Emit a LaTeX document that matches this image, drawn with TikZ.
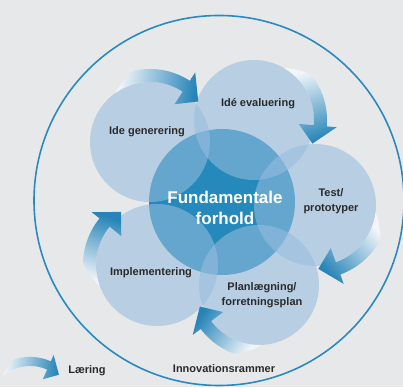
\documentclass[tikz,border=0pt]{standalone}
\usepackage{fontspec}
\setmainfont{Liberation Sans}
\definecolor{bg}{HTML}{E7E8EA}
\definecolor{ring}{HTML}{2A8AC0}
\definecolor{core}{HTML}{2689BB}
\definecolor{stagefill}{HTML}{95BDDE}
\definecolor{ink}{HTML}{2A2A2A}
\definecolor{arrowlight}{HTML}{F2F6FA}
\definecolor{arrowdark}{HTML}{2784B8}
\tikzset{
  stage/.style={circle, fill=stagefill, fill opacity=0.57, inner sep=0pt, minimum size=120pt},
  coreDisc/.style={circle, fill=core, inner sep=0pt, minimum size=146pt},
  frameRing/.style={circle, draw=ring, line width=1.6pt, inner sep=0pt, minimum size=370pt},
  learnArrow/.style={top color=arrowlight, bottom color=arrowdark},
  stageLbl/.style={text=ink, font=\bfseries\fontsize{11}{15}\selectfont, align=center},
  coreLbl/.style={text=white, font=\bfseries\fontsize{17}{21}\selectfont, align=center},
}
% curved learning arrow round a circle: centre x, centre y, radius,
% tail angle, head angle, shading angle
\newcommand{\LearnArrow}[6]{%
  \shade[learnArrow, shading angle=#6]
    plot[smooth, variable=\t, samples=30, domain=#4:#5]
      ({#1+(#3+13*min(1,((#4)-(\t))/22))*cos(\t)}, {#2+(#3+13*min(1,((#4)-(\t))/22))*sin(\t)})
    -- ({#1+(#3+23)*cos(#5)}, {#2+(#3+23)*sin(#5)})
    -- ({#1+(#3+3)*cos((#5)-17)}, {#2+(#3+3)*sin((#5)-17)})
    -- ({#1+(#3-15)*cos(#5)}, {#2+(#3-15)*sin(#5)})
    -- ({#1+#3*cos(#5)}, {#2+#3*sin(#5)})
    arc[start angle=#5, end angle=#4, radius=#3]
    -- cycle;
}

\begin{document}
\begin{tikzpicture}[x=1pt, y=1pt]
  \fill[bg] (0,0) rectangle (403,387);
  \useasboundingbox (0,0) rectangle (403,387);

  \node[frameRing] (frame) at (219,186.5) {};
  \node[coreDisc] (core) at (222,185) {};

  % the five stages
  \node[stage] (gen)  at (150,245) {};
  \node[stage] (eval) at (254,267) {};
  \node[stage, minimum size=122pt] (test) at (315,182) {};
  \node[stage] (plan) at (259,102) {};
  \node[stage, minimum size=122pt] (impl) at (157,122) {};

  % learning arrows
  \LearnArrow{150}{245}{60}{125}{57}{82}
  \LearnArrow{254}{267}{60}{60}{-5}{19}
  \LearnArrow{315}{182}{61}{-7}{-70}{-47}
  \LearnArrow{259}{102}{60}{272}{217}{-124}
  \LearnArrow{157}{122}{61}{200}{141}{162}
  \begin{scope}[shift={(30,-21)}, scale=0.7]
    \LearnArrow{0}{0}{60}{130}{66}{85}
  \end{scope}

  \node[stageLbl] (genTxt)  at (147,255) {Ide generering};
  \node[stageLbl] (evalTxt) at (258,283) {Idé evaluering};
  \node[stageLbl] (testTxt) at (331,185.5) {Test/\\prototyper};
  \node[stageLbl] (planTxt) at (262,92) {Planlægning/\\forretningsplan};
  \node[stageLbl] (implTxt) at (151,114) {Implementering};
  \node[coreLbl]  (coreTxt) at (225,179.5) {Fundamentale\\forhold};

  \node[stageLbl] (frameTxt) at (224,18) {Innovationsrammer};
  \node[stageLbl] (learnTxt) at (87,16) {Læring};
\end{tikzpicture}
\end{document}
